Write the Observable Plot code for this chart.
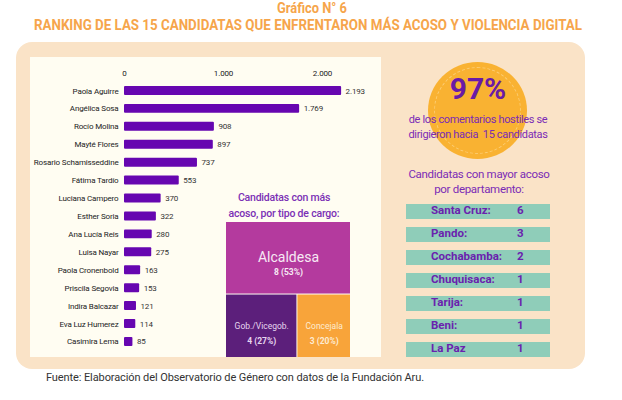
<!DOCTYPE html>
<html>
<head>
<meta charset="utf-8">
<script src="https://cdn.jsdelivr.net/npm/d3@7"></script>
<script src="https://cdn.jsdelivr.net/npm/@observablehq/plot@0.6"></script>
<style>
  html, body { margin: 0; padding: 0; background: #ffffff; }
  #root { position: relative; width: 622px; height: 400px; overflow: hidden; font-family: Roboto, "Noto Sans", sans-serif; }
  .abs { position: absolute; }
  .ctext { position: absolute; transform: translate(-50%, -50%); white-space: nowrap; text-align: center; }
</style>
</head>
<body>
<div id="root"></div>
<script>
// ---------- DATA ----------
const candidatas = ["Paola Aguirre","Angélica Sosa","Rocío Molina","Mayté Flores","Rosario Schamisseddine","Fátima Tardío","Luciana Campero","Esther Soria","Ana Lucía Reis","Luisa Nayar","Paola Cronenbold","Priscila Segovia","Indira Balcazar","Eva Luz Humerez","Casimira Lema"];
const comentarios = [2193,1769,908,897,737,553,370,322,280,275,163,153,121,114,85];
const xTicks = [0,1000,2000];

const cargos = ["Alcaldesa","Gob./Vicegob.","Concejala"];
const cargoCounts = [8,4,3];
const cargoPct = ["53%","27%","20%"];
const cargoColors = ["#B43A9E","#5C1F7B","#F8A43A"];
const cargoTextColors = ["#F7E9F4","#E6D6EF","#FDEBD2"];

const departamentos = ["Santa Cruz:","Pando:","Cochabamba:","Chuquisaca:","Tarija:","Beni:","La Paz"];
const deptCounts = [6,3,2,1,1,1,1];

const titleText = "Gráfico N° 6";
const subtitleText = "RANKING DE LAS 15 CANDIDATAS QUE ENFRENTARON MÁS ACOSO Y VIOLENCIA DIGITAL";
const bigStat = "97%";
const bigStatLines = ["de los comentarios hostiles se","dirigieron hacia  15 candidatas"];
const deptTitle = ["Candidatas con mayor acoso","por departamento:"];
const cargoTitle = ["Candidatas con más","acoso, por tipo de cargo:"];
const source = "Fuente: Elaboración del Observatorio de Género con datos de la Fundación Aru.";

// ---------- LAYOUT ----------
const root = document.getElementById("root");
const fmt = d3.formatLocale({decimal: ",", thousands: ".", grouping: [3], currency: ["", ""]}).format(",");

function addDiv(cls, style, html) {
  const d = document.createElement("div");
  d.className = cls;
  Object.assign(d.style, style);
  if (html != null) d.innerHTML = html;
  root.appendChild(d);
  return d;
}

// Header (condensed to fit target widths)
function fitText(txt, cx, cy, size, targetW) {
  const d = addDiv("abs", {left: "0px", top: "0px", fontSize: size + "px", fontWeight: "700", color: "#F6A54B", whiteSpace: "nowrap", lineHeight: "1"}, txt);
  const w = d.getBoundingClientRect().width;
  const h = d.getBoundingClientRect().height;
  const s = targetW / w;
  d.style.left = (cx - w / 2) + "px";
  d.style.top = (cy - h / 2) + "px";
  d.style.transform = `scaleX(${s})`;
  d.style.transformOrigin = "50% 50%";
}
fitText(titleText, 312, 8, 14, 70);
fitText(subtitleText, 308, 26, 14.5, 548);

// Panels
addDiv("abs", {left: "16px", top: "42px", width: "569px", height: "327px", background: "#FAE3C7", borderRadius: "16px"});
addDiv("abs", {left: "30px", top: "57px", width: "351px", height: "300px", background: "#FFFDF2"});

// Bar chart
const barData = candidatas.map((n, i) => ({name: n, value: comentarios[i]}));
const bars = Plot.plot({
  width: 381, height: 360,
  marginLeft: 124, marginRight: 9.5, marginTop: 77, marginBottom: 5,
  style: {background: "transparent", fontFamily: "'Liberation Sans Narrow', Roboto, sans-serif", fontSize: "8px", color: "#222", overflow: "visible", letterSpacing: "-0.15px"},
  x: {domain: [0, 2500], axis: "top", ticks: xTicks, tickFormat: fmt, tickSize: 0, tickPadding: 2, label: null},
  y: {domain: candidatas, range: [81.5, 350.4], paddingInner: 0.5, paddingOuter: 0.25, round: false, tickSize: 0, tickPadding: 6, label: null},
  marks: [
    Plot.barX(barData, {x: "value", y: "name", fill: "#6606B0", rx: 1}),
    Plot.text(barData, {x: "value", y: "name", text: d => fmt(d.value), dx: 4, textAnchor: "start", fill: "#333", fontSize: 8})
  ]
});
bars.style.position = "absolute"; bars.style.left = "0px"; bars.style.top = "0px";
root.appendChild(bars);

// Treemap title
addDiv("ctext", {left: "284px", top: "197px", fontSize: "10.5px", fontWeight: "500", color: "#7B30B5", letterSpacing: "-0.2px"}, cargoTitle[0]);
addDiv("ctext", {left: "284px", top: "213px", fontSize: "10.5px", fontWeight: "500", color: "#7B30B5", letterSpacing: "-0.2px"}, cargoTitle[1]);

// Treemap
const TW = 124, TH = 135;
const hier = d3.hierarchy({children: cargos.map((c, i) => ({name: c, value: cargoCounts[i], pct: cargoPct[i], color: cargoColors[i], tcolor: cargoTextColors[i]}))}).sum(d => d.value || 0);
d3.treemap().tile(d3.treemapBinary).size([TW, TH]).paddingInner(1)(hier);
const cells = hier.leaves().map(l => ({...l.data, x0: l.x0, x1: l.x1, y0: l.y0, y1: l.y1}));
const big = cells.filter(d => d.name === "Alcaldesa");
const small = cells.filter(d => d.name !== "Alcaldesa");
const tree = Plot.plot({
  width: TW, height: TH, margin: 0,
  style: {background: "transparent", fontFamily: "Roboto, sans-serif", overflow: "visible"},
  x: {domain: [0, TW], range: [0, TW], axis: null},
  y: {domain: [0, TH], range: [0, TH], axis: null},
  marks: [
    Plot.rect(cells, {x1: "x0", x2: "x1", y1: "y0", y2: "y1", fill: "color"}),
    Plot.text(big, {x: d => (d.x0 + d.x1) / 2, y: d => (d.y0 + d.y1) / 2, text: "name", fill: "tcolor", fontSize: 14, dy: -1}),
    Plot.text(big, {x: d => (d.x0 + d.x1) / 2, y: d => (d.y0 + d.y1) / 2, text: d => `${d.value} (${d.pct})`, fill: "tcolor", fontSize: 8.5, fontWeight: "bold", dy: 14}),
    Plot.text(small, {x: d => (d.x0 + d.x1) / 2, y: d => (d.y0 + d.y1) / 2, text: "name", fill: "tcolor", fontSize: 8.5}),
    Plot.text(small, {x: d => (d.x0 + d.x1) / 2, y: d => (d.y0 + d.y1) / 2, text: d => `${d.value} (${d.pct})`, fill: "tcolor", fontSize: 8.5, fontWeight: "bold", dy: 15})
  ]
});
tree.style.position = "absolute"; tree.style.left = "226px"; tree.style.top = "222px";
root.appendChild(tree);

// Circle & big stat
addDiv("abs", {left: "428px", top: "62px", width: "99px", height: "97px", borderRadius: "50%", background: "#F9B232"});
addDiv("abs", {left: "434px", top: "67px", width: "87px", height: "87px", borderRadius: "50%", border: "1px dashed rgba(255,236,190,0.45)", boxSizing: "border-box"});
addDiv("ctext", {left: "478px", top: "88px", fontSize: "30px", fontWeight: "700", color: "#6A1AA6"}, bigStat);
addDiv("ctext", {left: "478px", top: "119px", fontSize: "11px", color: "#7A2BB6", letterSpacing: "-0.35px"}, bigStatLines[0]);
addDiv("ctext", {left: "478px", top: "134px", fontSize: "11px", color: "#7A2BB6", letterSpacing: "-0.35px"}, bigStatLines[1].replace("  ", "&nbsp; "));
addDiv("ctext", {left: "479px", top: "174px", fontSize: "11.5px", color: "#7A2BB6", letterSpacing: "-0.3px"}, deptTitle[0]);
addDiv("ctext", {left: "479px", top: "189px", fontSize: "11.5px", color: "#7A2BB6", letterSpacing: "-0.3px"}, deptTitle[1]);

// Departments
const deptData = departamentos.map((d, i) => ({name: d, value: deptCounts[i]}));
const dept = Plot.plot({
  width: 160, height: 162, margin: 0,
  style: {background: "transparent", fontFamily: "Roboto, sans-serif", overflow: "visible"},
  x: {domain: [0, 1], range: [6, 150], axis: null},
  y: {domain: departamentos, range: [4, 157], paddingInner: 0.35, paddingOuter: 0, axis: null},
  marks: [
    Plot.barX(deptData, {x1: 0, x2: 1, y: "name", fill: "#8FCDB9"}),
    Plot.text(deptData, {x: 0.17, y: "name", text: "name", textAnchor: "start", fill: "#6A22AE", fontSize: 11.5, fontWeight: "bold", dy: -2}),
    Plot.text(deptData, {x: 0.79, y: "name", text: d => String(d.value), fill: "#6A22AE", fontSize: 11.5, fontWeight: "bold", dy: -2})
  ]
});
dept.style.position = "absolute"; dept.style.left = "400px"; dept.style.top = "200px";
root.appendChild(dept);

// Source
addDiv("abs", {left: "46px", top: "371px", fontSize: "11px", color: "#333", whiteSpace: "nowrap", letterSpacing: "-0.1px"}, source);
</script>
</body>
</html>
